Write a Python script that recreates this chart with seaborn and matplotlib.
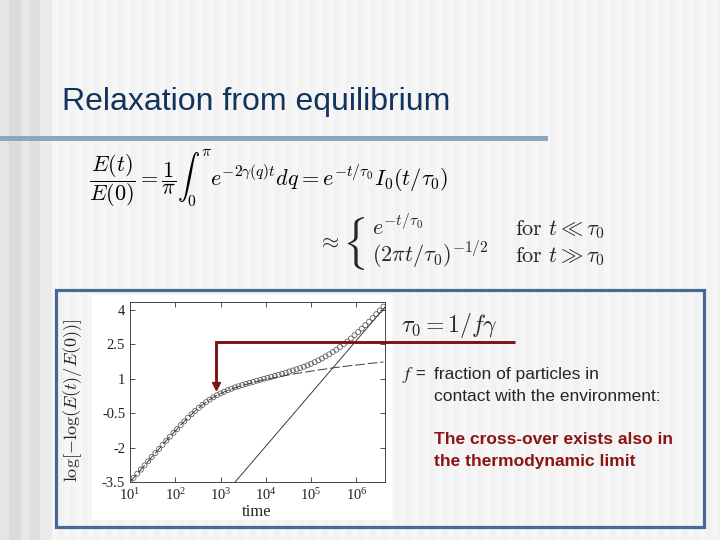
import matplotlib
matplotlib.use("Agg")
import matplotlib.pyplot as plt
from matplotlib.patches import Rectangle
import seaborn as sns

# values
time = [10.0, 12.0, 14.5, 17.4, 20.9, 25.1, 30.2, 36.3, 43.7, 52.5,
        63.1, 75.9, 91.2, 110, 132, 158, 191, 229, 275, 331,
        398, 479, 575, 692, 832, 1000, 1202, 1445, 1738, 2089,
        2512, 3020, 3631, 4365, 5248, 6310, 7586, 9120, 10965, 13183,
        15849, 19055, 22909, 27542, 33113, 39811, 47863, 57544, 69183, 83176,
        1.00e5, 1.20e5, 1.45e5, 1.74e5, 2.09e5, 2.51e5, 3.02e5, 3.63e5, 4.37e5, 5.25e5,
        6.31e5, 7.59e5, 9.12e5, 1.10e6, 1.32e6, 1.58e6, 1.91e6, 2.29e6, 2.75e6, 3.31e6,
        3.98e6]

# simulation (circles)
sim_y = [-3.50, -3.32, -3.14, -2.96, -2.78, -2.60, -2.41, -2.24, -2.06, -1.88,
         -1.70, -1.53, -1.36, -1.19, -1.02, -0.86, -0.70, -0.55, -0.40, -0.27,
         -0.14, -0.02, 0.09, 0.19, 0.28, 0.36, 0.43, 0.50, 0.56, 0.62,
         0.67, 0.72, 0.77, 0.82, 0.86, 0.91, 0.95, 1.00, 1.04, 1.08,
         1.12, 1.17, 1.21, 1.26, 1.31, 1.36, 1.41, 1.46, 1.52, 1.58,
         1.65, 1.72, 1.80, 1.88, 1.97, 2.06, 2.16, 2.26, 2.38, 2.50,
         2.62, 2.75, 2.89, 3.03, 3.18, 3.33, 3.48, 3.64, 3.81, 3.97,
         4.14]

# thermodynamic-limit curve (dashed)
theory_y = [-3.50, -3.32, -3.14, -2.96, -2.78, -2.60, -2.41, -2.24, -2.06, -1.88,
            -1.70, -1.53, -1.36, -1.19, -1.02, -0.86, -0.70, -0.55, -0.40, -0.27,
            -0.14, -0.02, 0.09, 0.19, 0.27, 0.35, 0.42, 0.49, 0.54, 0.60,
            0.65, 0.70, 0.74, 0.79, 0.83, 0.87, 0.91, 0.95, 0.98, 1.01,
            1.05, 1.08, 1.11, 1.14, 1.17, 1.20, 1.23, 1.25, 1.28, 1.30,
            1.33, 1.35, 1.38, 1.40, 1.42, 1.44, 1.47, 1.49, 1.51, 1.53,
            1.55, 1.57, 1.59, 1.60, 1.62, 1.64, 1.66, 1.68, 1.69, 1.71,
            1.73]

# long-time exponential decay (straight line)
decay_t = [2.1e3, 4.3e6]
decay_y = [-3.5, 4.12]

ytick_vals = [4, 2.5, 1, -0.5, -2, -3.5]
ytick_labels = ["4", "2.5", "1", "-0.5", "-2", "-3.5"]
xtick_vals = [1e1, 1e2, 1e3, 1e4, 1e5, 1e6]

sns.set_style("ticks")
plt.rcParams["font.family"] = ["Liberation Serif", "DejaVu Serif"]
plt.rcParams["axes.unicode_minus"] = False

W, H = 720, 540
fig = plt.figure(figsize=(7.2, 5.4), dpi=100)
fig.patch.set_facecolor("#f2f2f2")

# slide background, pixel coordinates
bg = fig.add_axes([0, 0, 1, 1], zorder=0)
bg.set_xlim(0, W)
bg.set_ylim(H, 0)
bg.axis("off")
for x0 in range(52, W, 12):
    bg.add_patch(Rectangle((x0, 0), 6, H, fc="#f6f6f6", ec="none"))
left_stripes = [(0, 9, "#e5e5e5"), (9, 21, "#dadada"), (21, 30, "#e7e7e7"),
                (30, 40, "#dedede"), (40, 52, "#ebebeb")]
for x0, x1, c in left_stripes:
    bg.add_patch(Rectangle((x0, 0), x1 - x0, H, fc=c, ec="none"))
bg.add_patch(Rectangle((0, 135.5), 548, 5.5, fc="#8ea5bf", ec="none"))
bg.add_patch(Rectangle((92, 295), 300, 225, fc="white", ec="none"))
bg.add_patch(Rectangle((56, 290), 648, 237, fill=False, ec="#476a92", lw=2.3))

# the chart
ax = fig.add_axes([130 / W, 1 - 482 / H, 255 / W, 180 / H], zorder=2)
sns.lineplot(x=time, y=theory_y, ax=ax, color="#3a3a3a", lw=0.7,
             linestyle=(0, (10, 3)), sort=False, estimator=None)
sns.lineplot(x=decay_t, y=decay_y, ax=ax, color="#3a3a3a", lw=0.7,
             sort=False, estimator=None)
sns.scatterplot(x=time, y=sim_y, ax=ax, marker="o", s=13,
                facecolor="none", edgecolor="#555555", linewidth=0.55, clip_on=True)
ax.set_xscale("log")
ax.set_xlim(10, 4.3e6)
ax.set_ylim(-3.5, 4.34)
ax.set_xticks(xtick_vals)
ax.set_yticks(ytick_vals, labels=ytick_labels)
ax.tick_params(which="both", direction="in", top=True, right=True,
               colors="#333333", labelcolor="#222222", labelsize=10.5, width=0.6)
ax.tick_params(which="major", length=3.5)
ax.tick_params(which="minor", length=2)
for sp in ax.spines.values():
    sp.set_color("#444444")
    sp.set_linewidth(0.7)
ax.set_xlabel("")
ax.set_ylabel("")

# overlay: text and arrow
fg = fig.add_axes([0, 0, 1, 1], zorder=5)
fg.set_xlim(0, W)
fg.set_ylim(H, 0)
fg.axis("off")
fg.patch.set_alpha(0)

fg.text(257, 512, "time", fontsize=12, color="#222222", ha="center", va="center")
fg.text(73, 400, r"$\log[-\log(E(t)/E(0))]$", rotation=90, fontsize=13,
        color="#222222", ha="center", va="center", math_fontfamily="cm")

fg.text(62, 110, "Relaxation from equilibrium", fontsize=23, color="#12335b",
        family="Liberation Sans", va="baseline")

fg.text(89, 178,
        r"$\dfrac{E(t)}{E(0)} = \dfrac{1}{\pi}\int_0^\pi e^{-2\gamma(q)t}dq"
        r" = e^{-t/\tau_0}I_0(t/\tau_0)$",
        fontsize=16, va="center", color="black", math_fontfamily="cm")
fg.text(318, 243, r"$\approx$", fontsize=16, va="center", math_fontfamily="cm")
fg.text(342, 244, r"$\{$", fontsize=32, va="center", math_fontfamily="cm")
fg.text(372, 235, r"$e^{-t/\tau_0}$", fontsize=16, va="baseline", math_fontfamily="cm")
fg.text(372, 262, r"$(2\pi t/\tau_0)^{-1/2}$", fontsize=16, va="baseline",
        math_fontfamily="cm")
fg.text(515, 235, r"$\mathrm{for}\ t \ll \tau_0$", fontsize=16, va="baseline",
        math_fontfamily="cm")
fg.text(515, 262, r"$\mathrm{for}\ t \gg \tau_0$", fontsize=16, va="baseline",
        math_fontfamily="cm")

fg.text(401, 332, r"$\tau_0 = 1/f\gamma$", fontsize=17, va="baseline",
        math_fontfamily="cm")

fg.plot([515, 216, 216], [342, 342, 383], color="#7a1414", lw=2.1,
        solid_joinstyle="miter", solid_capstyle="butt")
fg.plot([216], [386], marker="v", markersize=5.5, color="#7a1414")

sans = "Liberation Sans"
fg.text(402, 379, r"$f$", fontsize=13, va="baseline", math_fontfamily="stix")
fg.text(415, 379, "=", fontsize=12, va="baseline", family=sans)
fg.text(434, 379, "fraction of particles in", fontsize=12.5, va="baseline", family=sans)
fg.text(434, 401, "contact with the environment:", fontsize=12.5, va="baseline",
        family=sans)
fg.text(434, 444, "The cross-over exists also in", fontsize=12.5, va="baseline",
        family=sans, weight="bold", color="#8c1414")
fg.text(434, 466, "the thermodynamic limit", fontsize=12.5, va="baseline",
        family=sans, weight="bold", color="#8c1414")

fig.savefig("out.png", dpi=100, facecolor=fig.get_facecolor())
